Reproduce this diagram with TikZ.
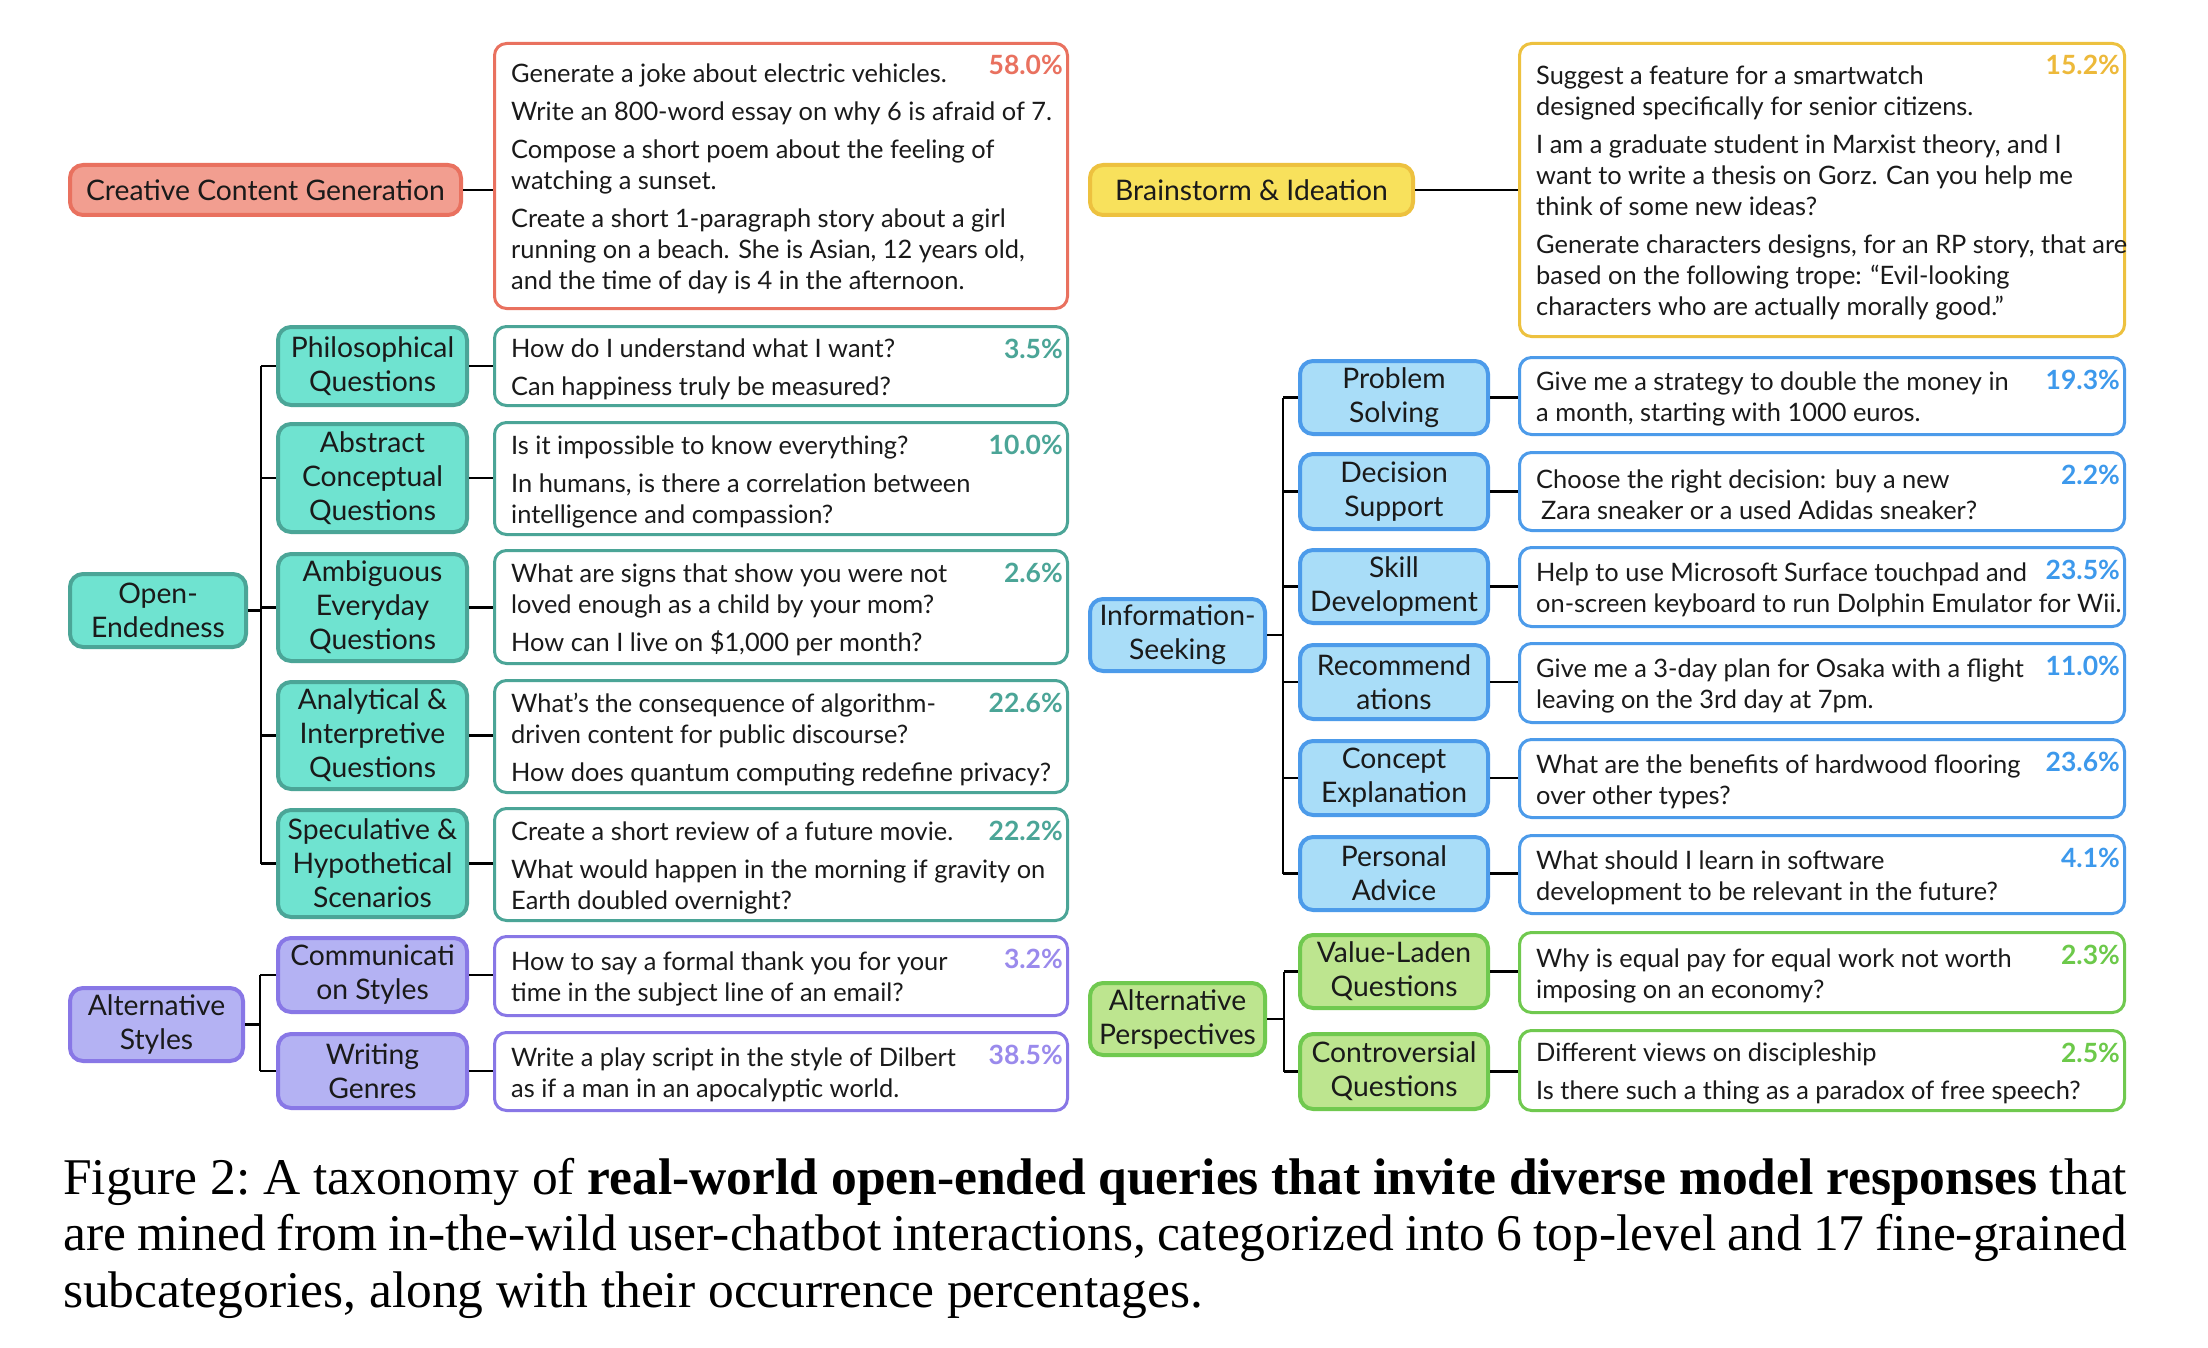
\documentclass[tikz,border=0pt]{standalone}
\usepackage{fontspec}
\setmainfont{Lato}
\newfontfamily\capfont{Liberation Serif}
\usetikzlibrary{calc}
\definecolor{redF}{HTML}{F29E90}
\definecolor{redD}{HTML}{E9715F}
\definecolor{yelF}{HTML}{F8E15C}
\definecolor{yelD}{HTML}{EDC13F}
\definecolor{yelP}{HTML}{EDB93A}
\definecolor{tealF}{HTML}{6FE3D0}
\definecolor{tealD}{HTML}{4BA597}
\definecolor{purF}{HTML}{B4B2F3}
\definecolor{purD}{HTML}{8877E6}
\definecolor{purP}{HTML}{9A8AEC}
\definecolor{bluF}{HTML}{A9DDF8}
\definecolor{bluD}{HTML}{4C9BEA}
\definecolor{bluP}{HTML}{3D99EC}
\definecolor{grnF}{HTML}{BDE58F}
\definecolor{grnD}{HTML}{70C94F}
\definecolor{grnP}{HTML}{6CC94A}
\definecolor{txt}{HTML}{1A1A1A}
\tikzset{
  cat/.style={draw, rounded corners=13pt, line width=4pt, align=center, inner sep=0pt,
    text=txt, font=\fontsize{28.3}{34}\selectfont},
  exbox/.style={draw, rounded corners=12pt, line width=3pt, fill=white, inner sep=0pt},
  extext/.style={anchor=west, align=left, inner sep=0pt, yshift=-3pt, text=txt, font=\fontsize{25.4}{31}\selectfont},
  pct/.style={anchor=base east, inner sep=0pt, font=\bfseries\fontsize{26.5}{30}\selectfont},
  conn/.style={line width=2.5pt, black},
  lcol/.style={exbox, minimum width=573pt},
  rcol/.style={exbox, minimum width=605pt},
  tsub/.style={cat, minimum width=189pt},
  bsub/.style={cat, minimum width=188pt},
}
\newcommand{\pg}{\\[7pt]}
\begin{document}
\begin{tikzpicture}[x=1pt,y=-1pt]
\fill[white] (0,0) rectangle (2208,1348);
\useasboundingbox (0,0) rectangle (2208,1348);

% ---------- top-level nodes ----------
\node[cat, fill=redF, draw=redD, minimum width=391pt, minimum height=50pt] (ccg) at (265.5,190) {Creative Content Generation};
\node[cat, fill=yelF, draw=yelD, minimum width=323pt, minimum height=50pt] (bi) at (1251.5,190) {Brainstorm \& Ideation};
\node[cat, fill=tealF, draw=tealD, minimum width=176pt, minimum height=73pt] (oe) at (158,610.5) {Open-\\Endedness};
\node[cat, fill=purF, draw=purD, minimum width=173pt, minimum height=73pt] (as) at (156.5,1024.5) {Alternative\\Styles};
\node[cat, fill=bluF, draw=bluD, minimum width=175pt, minimum height=72pt] (is) at (1177.5,635) {Information-\\Seeking};
\node[cat, fill=grnF, draw=grnD, minimum width=175pt, minimum height=72pt] (ap) at (1177.5,1019) {Alternative\\Perspectives};

% ---------- sub nodes ----------
\node[tsub, fill=tealF, draw=tealD, minimum height=78pt] (phil) at (372.5,366) {Philosophical\\Questions};
\node[tsub, fill=tealF, draw=tealD, minimum height=108pt] (abs) at (372.5,478) {Abstract\\Conceptual\\Questions};
\node[tsub, fill=tealF, draw=tealD, minimum height=107pt] (amb) at (372.5,607.5) {Ambiguous\\Everyday\\Questions};
\node[tsub, fill=tealF, draw=tealD, minimum height=107pt] (ana) at (372.5,735.5) {Analytical \&\\Interpretive\\Questions};
\node[tsub, fill=tealF, draw=tealD, minimum height=107pt] (spec) at (372.5,863.5) {Speculative \&\\Hypothetical\\Scenarios};
\node[tsub, fill=purF, draw=purD, minimum height=74pt] (comm) at (372.5,975) {Communicati\\on Styles};
\node[tsub, fill=purF, draw=purD, minimum height=74pt] (writ) at (372.5,1071) {Writing\\Genres};

\node[bsub, fill=bluF, draw=bluD, minimum height=73pt] (prob) at (1394,397.5) {Problem\\Solving};
\node[bsub, fill=bluF, draw=bluD, minimum height=75pt] (dec) at (1394,491.5) {Decision\\Support};
\node[bsub, fill=bluF, draw=bluD, minimum height=73pt] (skill) at (1394,586.5) {Skill\\Development};
\node[bsub, fill=bluF, draw=bluD, minimum height=74pt] (rec) at (1394,682) {Recommend\\ations};
\node[bsub, fill=bluF, draw=bluD, minimum height=74pt] (conc) at (1394,778) {Concept\\Explanation};
\node[bsub, fill=bluF, draw=bluD, minimum height=73pt] (pers) at (1394,873.5) {Personal\\Advice};
\node[bsub, fill=grnF, draw=grnD, minimum height=73pt] (val) at (1394,971.5) {Value-Laden\\Questions};
\node[bsub, fill=grnF, draw=grnD, minimum height=75pt] (cont) at (1394,1071.5) {Controversial\\Questions};

% ---------- example boxes ----------
\node[lcol, draw=redD, minimum height=265pt] (xcre) at (781,176) {};
\node[rcol, draw=yelD, minimum height=293pt] (xbi) at (1822,190) {};
\node[lcol, draw=tealD, minimum height=79pt] (xphil) at (781,366) {};
\node[lcol, draw=tealD, minimum height=112pt] (xabs) at (781,478.5) {};
\node[lcol, draw=tealD, minimum height=113pt] (xamb) at (781,607) {};
\node[lcol, draw=tealD, minimum height=112pt] (xana) at (781,736.5) {};
\node[lcol, draw=tealD, minimum height=112pt] (xspec) at (781,864.5) {};
\node[lcol, draw=purD, minimum height=79pt] (xcomm) at (781,976) {};
\node[lcol, draw=purD, minimum height=78pt] (xwrit) at (781,1071.5) {};
\node[rcol, draw=bluD, minimum height=77pt] (xprob) at (1822,396) {};
\node[rcol, draw=bluD, minimum height=78pt] (xdec) at (1822,491.5) {};
\node[rcol, draw=bluD, minimum height=79pt] (xskill) at (1822,587) {};
\node[rcol, draw=bluD, minimum height=79pt] (xrec) at (1822,683) {};
\node[rcol, draw=bluD, minimum height=78pt] (xconc) at (1822,778.5) {};
\node[rcol, draw=bluD, minimum height=78pt] (xpers) at (1822,874.5) {};
\node[rcol, draw=grnD, minimum height=80pt] (xval) at (1822,972.5) {};
\node[rcol, draw=grnD, minimum height=80pt] (xcont) at (1822,1070.5) {};

% ---------- example texts ----------
\node[extext] (tcre) at ([xshift=18pt]xcre.west) {Generate a joke about electric vehicles.\pg
Write an 800-word essay on why 6 is afraid of 7.\pg
Compose a short poem about the feeling of\\watching a sunset.\pg
Create a short 1-paragraph story about a girl\\running on a beach. She is Asian, 12 years old,\\and the time of day is 4 in the afternoon.};
\node[extext] (tbi) at ([xshift=18pt]xbi.west) {Suggest a feature for a smartwatch\\designed specifically for senior citizens.\pg
I am a graduate student in Marxist theory, and I\\want to write a thesis on Gorz. Can you help me\\think of some new ideas?\pg
Generate characters designs, for an RP story, that are\\based on the following trope: “Evil-looking\\characters who are actually morally good.”};
\node[extext] (tphil) at ([xshift=18pt]xphil.west) {How do I understand what I want?\pg Can happiness truly be measured?};
\node[extext] (tabs) at ([xshift=18pt]xabs.west) {Is it impossible to know everything?\pg In humans, is there a correlation between\\intelligence and compassion?};
\node[extext] (tamb) at ([xshift=18pt]xamb.west) {What are signs that show you were not\\loved enough as a child by your mom?\pg How can I live on \$1,000 per month?};
\node[extext] (tana) at ([xshift=18pt]xana.west) {What's the consequence of algorithm-\\driven content for public discourse?\pg How does quantum computing redefine privacy?};
\node[extext] (tspec) at ([xshift=18pt]xspec.west) {Create a short review of a future movie.\pg What would happen in the morning if gravity on\\Earth doubled overnight?};
\node[extext] (tcomm) at ([xshift=18pt]xcomm.west) {How to say a formal thank you for your\\time in the subject line of an email?};
\node[extext] (twrit) at ([xshift=18pt]xwrit.west) {Write a play script in the style of Dilbert\\as if a man in an apocalyptic world.};
\node[extext] (tprob) at ([xshift=18pt]xprob.west) {Give me a strategy to double the money in\\a month, starting with 1000 euros.};
\node[extext] (tdec) at ([xshift=18pt]xdec.west) {Choose the right decision: buy a new\\\hspace*{5pt}Zara sneaker or a used Adidas sneaker?};
\node[extext] (tskill) at ([xshift=18pt]xskill.west) {Help to use Microsoft Surface touchpad and\\on-screen keyboard to run Dolphin Emulator for Wii.};
\node[extext] (trec) at ([xshift=18pt]xrec.west) {Give me a 3-day plan for Osaka with a flight\\leaving on the 3rd day at 7pm.};
\node[extext] (tconc) at ([xshift=18pt]xconc.west) {What are the benefits of hardwood flooring\\over other types?};
\node[extext] (tpers) at ([xshift=18pt]xpers.west) {What should I learn in software\\development to be relevant in the future?};
\node[extext] (tval) at ([xshift=18pt]xval.west) {Why is equal pay for equal work not worth\\imposing on an economy?};
\node[extext] (tcont) at ([xshift=18pt]xcont.west) {Different views on discipleship\pg Is there such a thing as a paradox of free speech?};

% ---------- percentages ----------
\node[pct, text=redD] (pcre) at ([xshift=-6pt,yshift=-33pt]xcre.north east) {58.0\%};
\node[pct, text=yelP] (pbi) at ([xshift=-6pt,yshift=-33pt]xbi.north east) {15.2\%};
\node[pct, text=tealD] (pphil) at ([xshift=-6pt,yshift=-33pt]xphil.north east) {3.5\%};
\node[pct, text=tealD] (pabs) at ([xshift=-6pt,yshift=-33pt]xabs.north east) {10.0\%};
\node[pct, text=tealD] (pamb) at ([xshift=-6pt,yshift=-33pt]xamb.north east) {2.6\%};
\node[pct, text=tealD] (pana) at ([xshift=-6pt,yshift=-33pt]xana.north east) {22.6\%};
\node[pct, text=tealD] (pspec) at ([xshift=-6pt,yshift=-33pt]xspec.north east) {22.2\%};
\node[pct, text=purP] (pcomm) at ([xshift=-6pt,yshift=-33pt]xcomm.north east) {3.2\%};
\node[pct, text=purP] (pwrit) at ([xshift=-6pt,yshift=-33pt]xwrit.north east) {38.5\%};
\node[pct, text=bluP] (pprob) at ([xshift=-6pt,yshift=-33pt]xprob.north east) {19.3\%};
\node[pct, text=bluP] (pdec) at ([xshift=-6pt,yshift=-33pt]xdec.north east) {2.2\%};
\node[pct, text=bluP] (pskill) at ([xshift=-6pt,yshift=-33pt]xskill.north east) {23.5\%};
\node[pct, text=bluP] (prec) at ([xshift=-6pt,yshift=-33pt]xrec.north east) {11.0\%};
\node[pct, text=bluP] (pconc) at ([xshift=-6pt,yshift=-33pt]xconc.north east) {23.6\%};
\node[pct, text=bluP] (ppers) at ([xshift=-6pt,yshift=-33pt]xpers.north east) {4.1\%};
\node[pct, text=grnP] (pval) at ([xshift=-6pt,yshift=-33pt]xval.north east) {2.3\%};
\node[pct, text=grnP] (pcont) at ([xshift=-6pt,yshift=-33pt]xcont.north east) {2.5\%};

% ---------- connectors ----------
\draw[conn] (ccg.east) -- (ccg.east -| xcre.west);
\draw[conn] (bi.east) -- (bi.east -| xbi.west);

\coordinate (oeT) at (261,610.5);
\draw[conn] (oe.east) -- (oe.east -| oeT);
\draw[conn] (phil.west -| oeT) -- (spec.west -| oeT);
\foreach \s in {phil,abs,amb,ana,spec}{
  \draw[conn] (\s.west -| oeT) -- (\s.west);
  \draw[conn] (\s.east) -- (\s.east -| xcre.west);
}
\coordinate (asT) at (260,1024.5);
\draw[conn] (as.east) -- (as.east -| asT);
\draw[conn] (comm.west -| asT) -- (writ.west -| asT);
\foreach \s in {comm,writ}{
  \draw[conn] (\s.west -| asT) -- (\s.west);
  \draw[conn] (\s.east) -- (\s.east -| xcre.west);
}
\coordinate (isT) at (1283,635);
\draw[conn] (is.east) -- (is.east -| isT);
\draw[conn] (prob.west -| isT) -- (pers.west -| isT);
\foreach \s in {prob,dec,skill,rec,conc,pers}{
  \draw[conn] (\s.west -| isT) -- (\s.west);
  \draw[conn] (\s.east) -- (\s.east -| xbi.west);
}
\coordinate (apT) at (1284,1019);
\draw[conn] (ap.east) -- (ap.east -| apT);
\draw[conn] (val.west -| apT) -- (cont.west -| apT);
\foreach \s in {val,cont}{
  \draw[conn] (\s.west -| apT) -- (\s.west);
  \draw[conn] (\s.east) -- (\s.east -| xbi.west);
}

% ---------- caption ----------
\node[anchor=north west, inner sep=0pt, text width=2064pt, align=justify,
  font=\capfont\fontsize{51.5}{56.5}\selectfont] (cap) at (63,1158)
{\frenchspacing\hyphenpenalty=10000\tolerance=9999 Figure 2: A taxonomy of \textbf{real-world open-ended queries that invite diverse model responses} that\linebreak
are mined from in-the-wild user-chatbot interactions, categorized into 6 top-level and 17 fine-grained\linebreak
subcategories, along with their occurrence percentages.};
\end{tikzpicture}
\end{document}
